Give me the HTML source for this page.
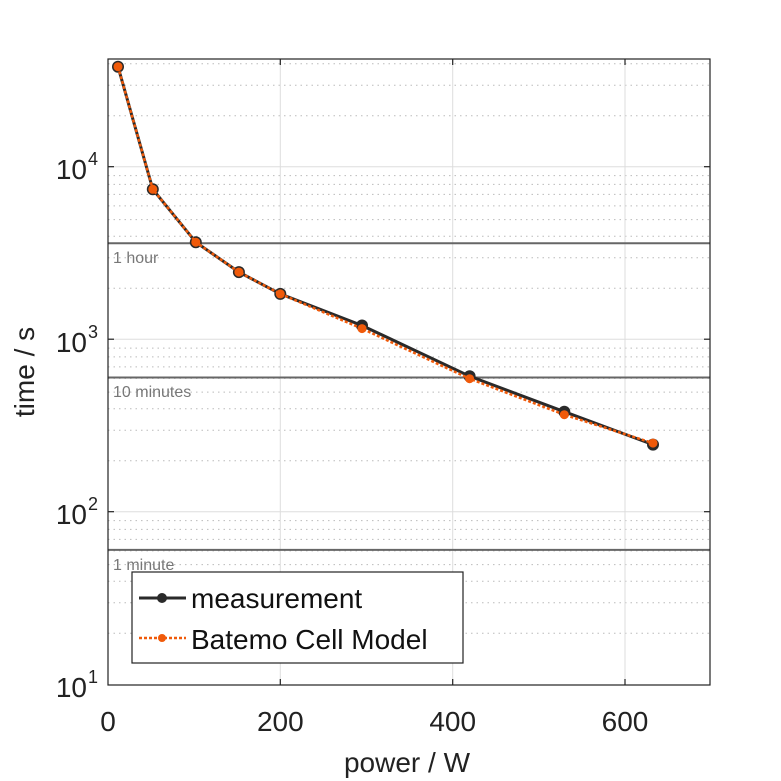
<!DOCTYPE html>
<html><head><style>body{margin:0;background:#fff}svg{display:block;font-family:"Liberation Sans",sans-serif}</style></head><body>
<svg width="781" height="781" viewBox="0 0 781 781" xmlns="http://www.w3.org/2000/svg">
<rect width="781" height="781" fill="#fff"/>
<g stroke="#bbb" stroke-width="1" stroke-dasharray="1.5,4">
<line x1="108" x2="710" y1="633.2" y2="633.2"/><line x1="108" x2="710" y1="602.8" y2="602.8"/><line x1="108" x2="710" y1="581.3" y2="581.3"/><line x1="108" x2="710" y1="564.6" y2="564.6"/><line x1="108" x2="710" y1="550.9" y2="550.9"/><line x1="108" x2="710" y1="539.4" y2="539.4"/><line x1="108" x2="710" y1="529.4" y2="529.4"/><line x1="108" x2="710" y1="520.6" y2="520.6"/>
<line x1="108" x2="710" y1="460.7" y2="460.7"/><line x1="108" x2="710" y1="430.3" y2="430.3"/><line x1="108" x2="710" y1="408.8" y2="408.8"/><line x1="108" x2="710" y1="392.1" y2="392.1"/><line x1="108" x2="710" y1="378.4" y2="378.4"/><line x1="108" x2="710" y1="366.9" y2="366.9"/><line x1="108" x2="710" y1="356.9" y2="356.9"/><line x1="108" x2="710" y1="348.1" y2="348.1"/>
<line x1="108" x2="710" y1="288.2" y2="288.2"/><line x1="108" x2="710" y1="257.8" y2="257.8"/><line x1="108" x2="710" y1="236.3" y2="236.3"/><line x1="108" x2="710" y1="219.6" y2="219.6"/><line x1="108" x2="710" y1="205.9" y2="205.9"/><line x1="108" x2="710" y1="194.4" y2="194.4"/><line x1="108" x2="710" y1="184.4" y2="184.4"/><line x1="108" x2="710" y1="175.6" y2="175.6"/>
<line x1="108" x2="710" y1="115.7" y2="115.7"/><line x1="108" x2="710" y1="85.3" y2="85.3"/><line x1="108" x2="710" y1="63.8" y2="63.8"/>
</g>
<g stroke="#ddd" stroke-width="1">
<line x1="108" x2="710" y1="511.7" y2="511.7"/><line x1="108" x2="710" y1="339.2" y2="339.2"/><line x1="108" x2="710" y1="166.7" y2="166.7"/>
<line x1="280.3" x2="280.3" y1="59" y2="685"/><line x1="452.7" x2="452.7" y1="59" y2="685"/><line x1="625" x2="625" y1="59" y2="685"/>
</g>
<g stroke="#666" stroke-width="2">
<line x1="108" x2="710" y1="243.3" y2="243.3"/><line x1="108" x2="710" y1="377.5" y2="377.5"/><line x1="108" x2="710" y1="549.9" y2="549.9"/>
</g>
<g fill="#777" font-size="16">
<text x="113" y="263">1 hour</text><text x="113" y="397">10 minutes</text><text x="113" y="570">1 minute</text>
</g>
<rect x="108" y="59" width="602" height="626" fill="none" stroke="#222" stroke-width="1.2"/>
<g stroke="#222" stroke-width="1.2">
<line x1="280.3" x2="280.3" y1="685" y2="679"/><line x1="452.7" x2="452.7" y1="685" y2="679"/><line x1="625" x2="625" y1="685" y2="679"/>
<line x1="280.3" x2="280.3" y1="59" y2="65"/><line x1="452.7" x2="452.7" y1="59" y2="65"/><line x1="625" x2="625" y1="59" y2="65"/>
<line x1="108" x2="114" y1="511.7" y2="511.7"/><line x1="108" x2="114" y1="339.2" y2="339.2"/><line x1="108" x2="114" y1="166.7" y2="166.7"/>
<line x1="710" x2="704" y1="511.7" y2="511.7"/><line x1="710" x2="704" y1="339.2" y2="339.2"/><line x1="710" x2="704" y1="166.7" y2="166.7"/>
</g>
<polyline fill="none" stroke="#2a2a2a" stroke-width="3" points="118,66.7 152.8,189.3 195.8,242.2 238.9,272.1 280.3,293.9 362,325.5 469.6,376.2 564.3,411.7 653,444.6"/>
<g fill="#2a2a2a"><circle cx="118" cy="66.7" r="6"/><circle cx="152.8" cy="189.3" r="6"/><circle cx="195.8" cy="242.2" r="6"/><circle cx="238.9" cy="272.1" r="6"/><circle cx="280.3" cy="293.9" r="6"/><circle cx="362" cy="325.5" r="6"/><circle cx="469.6" cy="376.2" r="6"/><circle cx="564.3" cy="411.7" r="6"/><circle cx="653" cy="444.6" r="6"/></g>
<polyline fill="none" stroke="#f05a0a" stroke-width="2.5" stroke-dasharray="3,2" points="118,66.7 152.8,189.3 195.8,242.2 238.9,272.1 280.3,293.9 362,328.6 469.6,378.7 564.3,414.7 653,443.1"/>
<g fill="#f05a0a"><circle cx="118" cy="66.7" r="4.5"/><circle cx="152.8" cy="189.3" r="4.5"/><circle cx="195.8" cy="242.2" r="4.5"/><circle cx="238.9" cy="272.1" r="4.5"/><circle cx="280.3" cy="293.9" r="4.5"/><circle cx="362" cy="328.6" r="4.5"/><circle cx="469.6" cy="378.7" r="4.5"/><circle cx="564.3" cy="414.7" r="4.5"/><circle cx="653" cy="443.1" r="4.5"/></g>
<rect x="132" y="572" width="331" height="91" fill="#fff" stroke="#222" stroke-width="1.2"/>
<line x1="139" x2="186" y1="598" y2="598" stroke="#2a2a2a" stroke-width="3"/><circle cx="162" cy="598" r="5" fill="#2a2a2a"/>
<line x1="139" x2="186" y1="638" y2="638" stroke="#f05a0a" stroke-width="2.5" stroke-dasharray="3,2"/><circle cx="162" cy="638" r="4" fill="#f05a0a"/>
<g font-size="28" fill="#111"><text x="191" y="608">measurement</text><text x="191" y="649">Batemo Cell Model</text></g>
<g font-size="28" fill="#222" text-anchor="middle">
<text x="108" y="731">0</text><text x="280.3" y="731">200</text><text x="452.7" y="731">400</text><text x="625" y="731">600</text>
<text x="407" y="772">power / W</text>
</g>
<g font-size="28" fill="#222" text-anchor="end">
<text x="87" y="697">10</text><text x="87" y="524">10</text><text x="87" y="352">10</text><text x="87" y="179">10</text>
</g>
<g font-size="18" fill="#222">
<text x="88" y="683">1</text><text x="88" y="510">2</text><text x="88" y="338">3</text><text x="88" y="165">4</text>
</g>
<text transform="translate(34,372) rotate(-90)" font-size="28" fill="#222" text-anchor="middle">time / s</text>
</svg>
</body></html>
